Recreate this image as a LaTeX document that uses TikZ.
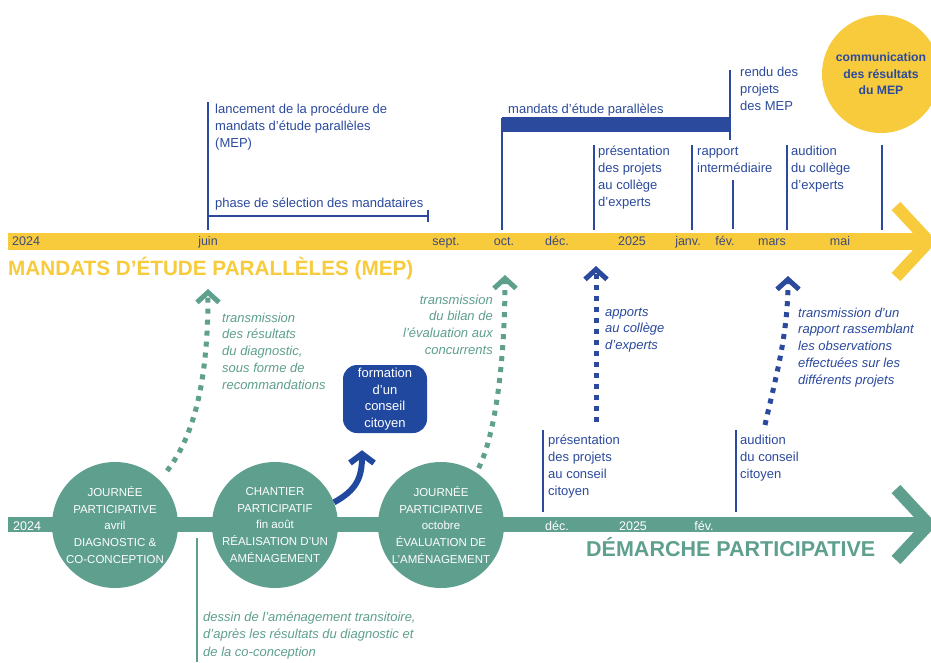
\documentclass[tikz,border=0pt]{standalone}
\usepackage{fontspec}
\setmainfont{Liberation Sans}
\usetikzlibrary{positioning,arrows.meta}
\definecolor{mepyellow}{HTML}{F7CB3C}
\definecolor{mepblue}{HTML}{2B4A9E}
\definecolor{boxblue}{HTML}{21489F}
\definecolor{mepteal}{HTML}{5E9F8E}
\definecolor{bartext}{HTML}{3E4A7A}

\begin{document}
\begin{tikzpicture}[x=1pt,y=-1pt,
        every node/.style={inner sep=0pt},
        info/.style={text=mepblue, font=\fontsize{13}{17.3}\selectfont, align=left, anchor=base west},
        noteteal/.style={text=mepteal, font=\fontsize{13}{16.8}\selectfont\itshape, align=left, anchor=base west},
        noteblue/.style={noteteal, text=mepblue},
        onyellow/.style={text=bartext, font=\fontsize{12.5}{15}\selectfont, anchor=base},
        onteal/.style={text=white, font=\fontsize{12.5}{15}\selectfont, anchor=base},
        markline/.style={draw=mepblue, line width=1.5pt},
        stage/.style={circle, fill=mepteal, minimum size=126pt, inner sep=-8pt, text=white, align=center, font=\fontsize{11.5}{16.6}\selectfont},
        dotarrow/.style={line width=5pt, dash pattern=on 5pt off 6pt, -{Straight Barb[length=10pt,width=22pt]}},
        bigtitle/.style={font=\bfseries, anchor=base west}]
    \useasboundingbox (0,0) rectangle (931,662);
    \fill[white] (0,0) rectangle (931,662);

    \fill[mepyellow] (8,233) rectangle (924,250);
    \draw[mepyellow, line width=12pt] (896,206) -- (929,241.5) -- (896,277);
    \node[onyellow, anchor=base west] (y2024) at (12,245) {2024};
    \node[onyellow] (yjuin) at (208,245) {juin};
    \node[onyellow] (ysept) at (446,245) {sept.};
    \node[onyellow] (yoct) at (504,245) {oct.};
    \node[onyellow] (ydec) at (557,245) {déc.};
    \node[onyellow] (y2025) at (632,245) {2025};
    \node[onyellow] (yjanv) at (688,245) {janv.};
    \node[onyellow] (yfev) at (725,245) {fév.};
    \node[onyellow] (ymars) at (772,245) {mars};
    \node[onyellow] (ymai) at (840,245) {mai};
    \node[bigtitle, text=mepyellow, font=\fontsize{20.7}{21}\selectfont\bfseries] (mep) at (8,275) {MANDATS D’ÉTUDE PARALLÈLES (MEP)};

    \draw[markline] (208,102) -- (208,230);
    \node[info] (lancement) at (215,147.6) {lancement de la procédure de\\mandats d’étude parallèles\\(MEP)};
    \node[info] (selection) at (215,207) {phase de sélection des mandataires};
    \draw[markline] (208,216) -- (428,216);
    \draw[markline] (428,210) -- (428,222);
    \draw[markline] (502,118) -- (502,230);
    \fill[mepblue] (502,117) rectangle (730,132);
    \node[info] (mandats) at (508,113) {mandats d’étude parallèles};
    \draw[markline] (730,70) -- (730,140);
    \node[info] (rendu) at (740,110.6) {rendu des\\projets\\des MEP};
    \draw[markline] (594,145) -- (594,230);
    \node[info] (college) at (598,206.9) {présentation\\des projets\\au collège\\d’experts};
    \draw[markline] (692,145) -- (692,230);
    \node[info] (rapport) at (697,172.3) {rapport\\intermédiaire};
    \draw[markline] (733,180) -- (733,229);
    \draw[markline] (787,145) -- (787,230);
    \node[info] (auditionexp) at (791,189.6) {audition\\du collège\\d’experts};
    \draw[markline] (882,145) -- (882,230);
    \node[circle, fill=mepyellow, minimum size=118pt, text=mepblue, align=center,
        font=\fontsize{12.2}{16.5}\selectfont\bfseries] (resultats) at (881,74) {communication\\des résultats\\du MEP};

    \fill[mepteal] (8,517) rectangle (924,532);
    \draw[mepteal, line width=12pt] (896,489) -- (929,524.5) -- (896,560);
    \node[onteal, anchor=base west] (t2024) at (13,530) {2024};
    \node[onteal] (tdec) at (557,530) {déc.};
    \node[onteal] (t2025) at (633,530) {2025};
    \node[onteal] (tfev) at (704,530) {fév.};
    \node[bigtitle, text=mepteal, font=\fontsize{21.5}{22}\selectfont\bfseries] (demarche) at (586,556) {DÉMARCHE PARTICIPATIVE};

    \node[stage] (diag) at (115,525) {JOURNÉE\\PARTICIPATIVE\\avril\\DIAGNOSTIC \&\\CO-CONCEPTION};
    \node[stage] (chantier) at (275,525) {CHANTIER\\PARTICIPATIF\\fin août\\RÉALISATION D’UN\\AMÉNAGEMENT};
    \node[stage] (evaluation) at (441,525) {JOURNÉE\\PARTICIPATIVE\\octobre\\ÉVALUATION DE\\L’AMÉNAGEMENT};

    \draw[draw=mepteal, line width=1.5pt] (197,538) -- (197,662);
    \node[noteteal, font=\fontsize{13}{17.5}\selectfont\itshape] (dessin) at (203,656) {dessin de l’aménagement transitoire,\\d’après les résultats du diagnostic et\\de la co-conception};

    \node[rectangle, rounded corners=14pt, fill=boxblue, minimum width=84pt, minimum height=68pt,
        text=white, align=center, font=\fontsize{13}{16.5}\selectfont] (conseil) at (385,399) {formation\\d’un\\conseil\\citoyen};
    \draw[boxblue, line width=6pt, -{Straight Barb[length=9pt,width=24pt]}]
        (chantier.21) .. controls +(22,-12) and +(0,28) .. ([xshift=-23pt,yshift=-17pt]conseil.south);

    \coordinate (up1) at (208,289);
    \coordinate (up2) at (505,275);
    \coordinate (up3) at (596,266);
    \coordinate (up4) at (788,276);
    \coordinate (from3) at (596,422);
    \coordinate (from4) at (765,425);
    \draw[dotarrow, mepteal, shorten <=12pt] (diag.45) .. controls +(35,-45) and +(0,90) .. (up1);
    \draw[dotarrow, mepteal, shorten <=5pt] (evaluation.56) .. controls +(20,-40) and +(0,80) .. (up2);
    \draw[dotarrow, mepblue] (from3) -- (up3);
    \draw[dotarrow, mepblue] (from4) .. controls +(10,-45) and +(0,60) .. (up4);

    \node[noteteal] (diagnote) at (222,389.2) {transmission\\des résultats\\du diagnostic,\\sous forme de\\recommandations};
    \node[noteteal, align=right, anchor=base east] (bilan) at (493,354.4) {transmission\\du bilan de\\l’évaluation aux\\concurrents};
    \node[noteblue] (apports) at (605,349.6) {apports\\au collège\\d’experts};
    \node[noteblue] (observations) at (798,384.2) {transmission d’un\\rapport rassemblant\\les observations\\effectuées sur les\\différents projets};

    \draw[markline] (543,430) -- (543,512);
    \node[info] (presconseil) at (548,495.9) {présentation\\des projets\\au conseil\\citoyen};
    \draw[markline] (736,430) -- (736,512);
    \node[info] (auditionconseil) at (740,478.6) {audition\\du conseil\\citoyen};
\end{tikzpicture}
\end{document}
